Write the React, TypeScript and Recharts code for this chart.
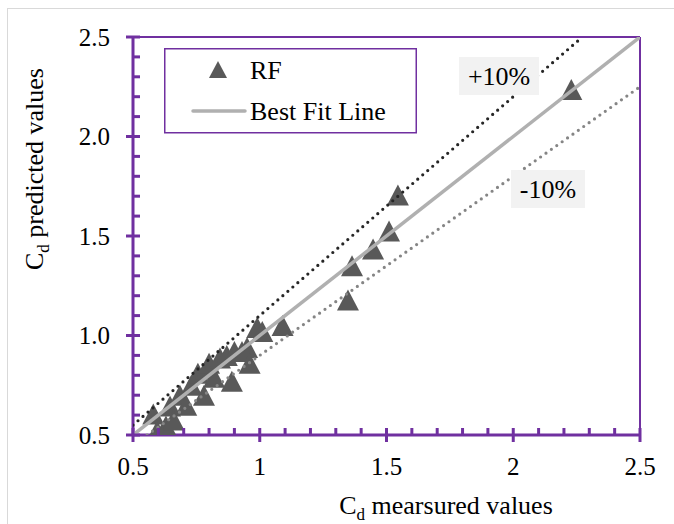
import React from 'react';
import {
  ScatterChart,
  Scatter,
  XAxis,
  YAxis,
  ZAxis,
  ReferenceLine,
  ReferenceDot,
  Legend,
  Customized,
} from 'recharts';

// ---------------- data ----------------
const rfMeasured = [
  0.58, 0.595, 0.63, 0.646, 0.66, 0.685, 0.71, 0.73, 0.756, 0.78,
  0.79, 0.8, 0.82, 0.843, 0.87, 0.89, 0.9, 0.93, 0.95, 0.96,
  0.99, 1.01, 1.09, 1.348, 1.364, 1.447, 1.51, 1.545, 2.229,
];
const rfPredicted = [
  0.605, 0.52, 0.545, 0.646, 0.575, 0.7, 0.65, 0.75, 0.81, 0.7,
  0.83, 0.86, 0.79, 0.887, 0.9, 0.77, 0.92, 0.92, 0.94, 0.86,
  1.04, 1.02, 1.05, 1.178, 1.35, 1.435, 1.525, 1.706, 2.236,
];

const bestFitX = [0.5, 2.5];
const bestFitY = [0.5, 2.5];
const plus10X = [0.5, 2.2727];
const plus10Y = [0.55, 2.5];
const minus10X = [0.5556, 2.5];
const minus10Y = [0.5, 2.25];

const axisTicks = [
  0.5, 0.6, 0.7, 0.8, 0.9, 1.0, 1.1, 1.2, 1.3, 1.4, 1.5,
  1.6, 1.7, 1.8, 1.9, 2.0, 2.1, 2.2, 2.3, 2.4, 2.5,
];
const majorTicks = [0.5, 1.0, 1.5, 2.0, 2.5];
const xTickLabels = ['0.5', '1', '1.5', '2', '2.5'];
const yTickLabels = ['0.5', '1.0', '1.5', '2.0', '2.5'];

const bandLabels = ['+10%', '-10%'];
const bandLabelX = [1.944, 2.137];
const bandLabelY = [2.304, 1.736];

const seriesNames = ['RF', 'Best Fit Line'];

// ---------------- styles ----------------
const PURPLE = '#7030A0';
const MARKER = '#595959';
const FIT = '#B0B0B0';
const FONT = '"Liberation Serif", "Times New Roman", serif';

const toPoints = (xs: number[], ys: number[]) => xs.map((x, i) => ({ x, y: ys[i] }));
const rfData = toPoints(rfMeasured, rfPredicted);
const fitData = toPoints(bestFitX, bestFitY);
const plusData = toPoints(plus10X, plus10Y);
const minusData = toPoints(minus10X, minus10Y);

const majorIndex = (v: number) => majorTicks.findIndex((m) => Math.abs(m - v) < 1e-6);

const YTick = (props: any) => {
  const { x, y, payload } = props;
  const idx = majorIndex(payload.value);
  const major = idx >= 0;
  return (
    <g>
      <line x1={major ? x - 7 : x} x2={x + 7} y1={y} y2={y} stroke={PURPLE} strokeWidth={3} />
      {major && (
        <text x={x - 23} y={y} dy="0.35em" textAnchor="end" fontFamily={FONT} fontSize={25} fill="#000">
          {yTickLabels[idx]}
        </text>
      )}
    </g>
  );
};

const XTick = (props: any) => {
  const { x, y, payload } = props;
  const idx = majorIndex(payload.value);
  const major = idx >= 0;
  return (
    <g>
      <line x1={x} x2={x} y1={y - 7} y2={major ? y + 7 : y} stroke={PURPLE} strokeWidth={3} />
      {major && (
        <text x={x} y={y + 31} dy="0.35em" textAnchor="middle" fontFamily={FONT} fontSize={25} fill="#000">
          {xTickLabels[idx]}
        </text>
      )}
    </g>
  );
};

const Triangle = (props: any) => {
  const { cx, cy } = props;
  const w = 22;
  const h = 21;
  return (
    <path
      d={`M${cx},${cy - h / 2}L${cx + w / 2},${cy + h / 2}L${cx - w / 2},${cy + h / 2}Z`}
      fill={MARKER}
    />
  );
};

const NoShape = () => <g />;

const BandLabel = (idx: number) => (props: any) => {
  const { cx, cy } = props;
  const w = idx === 0 ? 80 : 74;
  const h = 38;
  return (
    <g>
      <rect x={cx - w / 2} y={cy - h / 2} width={w} height={h} fill="#F2F2F2" />
      <text x={cx} y={cy} dy="0.35em" textAnchor="middle" fontFamily={FONT} fontSize={26} fill="#000">
        {bandLabels[idx]}
      </text>
    </g>
  );
};

const LegendBox = () => (
  <svg width={253} height={86} style={{ display: 'block' }}>
    <rect x={0.75} y={0.75} width={251.5} height={84} fill="#fff" stroke={PURPLE} strokeWidth={1.5} />
    <path d="M54,13L63,30L45,30Z" fill={MARKER} />
    <text x={86} y={22} dy="0.35em" fontFamily={FONT} fontSize={26} fill="#000">
      {seriesNames[0]}
    </text>
    <line x1={29} x2={81} y1={63} y2={63} stroke={FIT} strokeWidth={3.5} strokeLinecap="round" />
    <text x={86} y={63} dy="0.35em" fontFamily={FONT} fontSize={26} fill="#000">
      {seriesNames[1]}
    </text>
  </svg>
);

const AxisTitles = () => (
  <g fontFamily={FONT} fill="#000">
    <text x={446} y={514} textAnchor="middle" fontSize={26}>
      C<tspan fontSize={17} dy={6}>d</tspan>
      <tspan dy={-6}> mearsured values</tspan>
    </text>
    <text transform="translate(43,169) rotate(-90)" textAnchor="middle" fontSize={26}>
      C<tspan fontSize={17} dy={6}>d</tspan>
      <tspan dy={-6}> predicted values</tspan>
    </text>
  </g>
);

export default function App() {
  return (
    <div style={{ position: 'absolute', left: 0, top: 0, width: 674, height: 524, overflow: 'hidden', background: '#fff' }}>
      <div
        style={{
          position: 'absolute',
          left: 7,
          top: 8,
          width: 700,
          height: 560,
          borderLeft: '1.5px solid #D9D9D9',
          borderTop: '1.5px solid #D9D9D9',
        }}
      />
      <div style={{ position: 'absolute', left: 0, top: 0 }}>
        <ScatterChart width={674} height={524} margin={{ top: 37, right: 34, bottom: 88, left: 132 }}>
          <XAxis
            type="number"
            dataKey="x"
            domain={[0.5, 2.5]}
            ticks={axisTicks}
            interval={0}
            height={1}
            tickSize={0}
            tickMargin={0}
            tickLine={false}
            axisLine={{ stroke: PURPLE, strokeWidth: 3 }}
            tick={(p: any) => <XTick {...p} />}
            allowDataOverflow
          />
          <YAxis
            type="number"
            dataKey="y"
            domain={[0.5, 2.5]}
            ticks={axisTicks}
            interval={0}
            width={1}
            tickSize={0}
            tickMargin={0}
            tickLine={false}
            axisLine={{ stroke: PURPLE, strokeWidth: 3 }}
            tick={(p: any) => <YTick {...p} />}
            allowDataOverflow
          />
          <ZAxis range={[200, 200]} />
          <ReferenceLine y={2.5} stroke={PURPLE} strokeWidth={2} />
          <ReferenceLine x={2.5} stroke={PURPLE} strokeWidth={2} />
          <Scatter name={seriesNames[0]} data={rfData} shape={(p: any) => <Triangle {...p} />} isAnimationActive={false} />
          <Scatter
            data={plusData}
            shape={NoShape}
            line={{ stroke: '#262626', strokeWidth: 3.2, strokeDasharray: '0 6.6', strokeLinecap: 'round' }}
            isAnimationActive={false}
            legendType="none"
          />
          <Scatter
            data={minusData}
            shape={NoShape}
            line={{ stroke: '#858585', strokeWidth: 3.2, strokeDasharray: '0 6.6', strokeLinecap: 'round' }}
            isAnimationActive={false}
            legendType="none"
          />
          <Scatter
            name={seriesNames[1]}
            data={fitData}
            shape={NoShape}
            line={{ stroke: FIT, strokeWidth: 3.5 }}
            isAnimationActive={false}
          />
          <ReferenceDot x={bandLabelX[0]} y={bandLabelY[0]} r={0} shape={BandLabel(0)} />
          <ReferenceDot x={bandLabelX[1]} y={bandLabelY[1]} r={0} shape={BandLabel(1)} />
          <Customized component={AxisTitles} />
          <Legend
            layout="vertical"
            align="center"
            verticalAlign="middle"
            wrapperStyle={{ position: 'absolute', left: 164, top: 48, width: 253, height: 86 }}
            content={() => <LegendBox />}
          />
        </ScatterChart>
      </div>
    </div>
  );
}
